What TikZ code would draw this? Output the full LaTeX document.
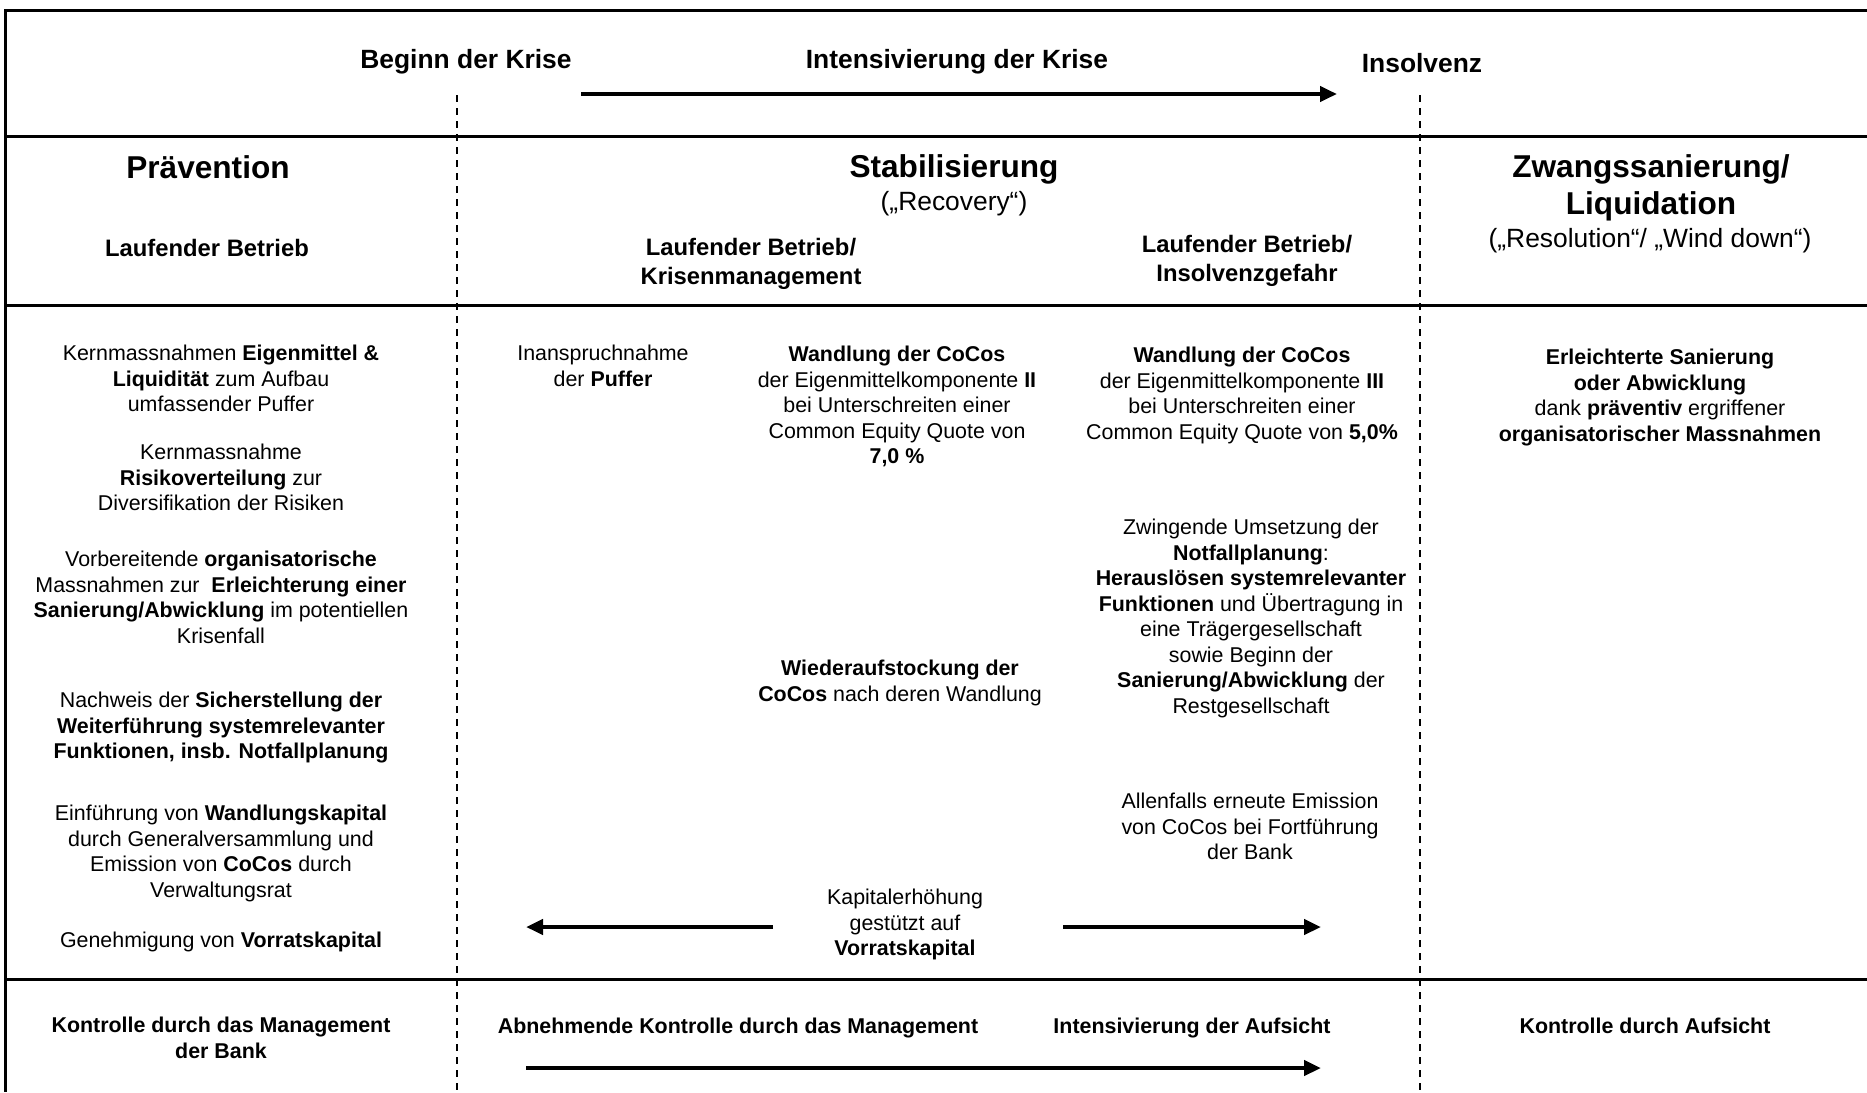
\documentclass[tikz,border=0pt]{standalone}
\usepackage{fontspec}
\setmainfont{Liberation Sans}
\usepackage{tikz}
\usetikzlibrary{arrows.meta,positioning}

\tikzstyle{phase} = [font=\fontsize{13.2}{15.8}\selectfont\bfseries, inner sep=0pt, anchor=north, align=center]
\tikzstyle{heading} = [font=\fontsize{15.8}{18.5}\selectfont\bfseries, inner sep=0pt, anchor=north, align=center]
\tikzstyle{english} = [font=\fontsize{13.2}{15.8}\selectfont, inner sep=0pt, anchor=north, align=center]
\tikzstyle{subhead} = [font=\fontsize{11.9}{14.5}\selectfont\bfseries, inner sep=0pt, anchor=north, align=center]
\tikzstyle{measure} = [font=\fontsize{10.7}{12.75}\selectfont, inner sep=0pt, anchor=north, align=center]
\tikzstyle{control} = [font=\fontsize{10.7}{12.75}\selectfont\bfseries, inner sep=0pt, anchor=north, align=center]
\tikzstyle{arrow} = [line width=2.2pt, -{Triangle[length=8.5pt,width=7.5pt]}]
\tikzstyle{frame} = [line width=1.5pt]
\tikzstyle{phaseline} = [line width=0.9pt, dash pattern=on 3.5pt off 3pt]

\begin{document}
\begin{tikzpicture}[x=0.5pt, y=-0.5pt]
\useasboundingbox (0,0) rectangle (1867,1092);

% Frame and rows
\draw[frame] (1867,10) -- (5,10) -- (5,1092);
\draw[frame] (5,136) -- (1867,136);
\draw[frame] (5,305) -- (1867,305);
\draw[frame] (5,979) -- (1867,979);

% Phase borders
\draw[phaseline] (457,95) -- (457,1092);
\draw[phaseline] (1420,95) -- (1420,1092);

% Top row
\node (beginn) [phase] at (466,49) {Beginn der Krise};
\node (intens) [phase] at (957,49) {Intensivierung der Krise};
\node (insolv) [phase] at (1422,53) {Insolvenz};
\coordinate (crisisstart) at (581,94);
\coordinate (crisisend) at (1337,94);
\draw[arrow] (crisisstart) -- (crisisend);

% Headings
\node (praev) [heading] at (208,155) {Prävention};
\node (stab) [heading] at (954,154) {Stabilisierung};
\node (recov) [english] at (954,191) {(„Recovery“)};
\node (zwang) [heading] at (1651,154) {Zwangssanierung/\\Liquidation};
\node (resol) [english] at (1650,228) {(„Resolution“/ „Wind down“)};

\node (lbpraev) [subhead] at (207,239) {Laufender Betrieb};
\node (lbkrise) [subhead] at (751,238) {Laufender Betrieb/\\Krisenmanagement};
\node (lbinsolv) [subhead] at (1247,235) {Laufender Betrieb/\\Insolvenzgefahr};

% Praevention
\node (puffer) [measure] at (221,345) {Kernmassnahmen \textbf{Eigenmittel \&}\\\textbf{Liquidität} zum Aufbau\\umfassender Puffer};
\node (risiko) [measure] at (221,444) {Kernmassnahme\\\textbf{Risikoverteilung} zur\\Diversifikation der Risiken};
\node (organ) [measure] at (221,551) {Vorbereitende \textbf{organisatorische}\\Massnahmen zur~ \textbf{Erleichterung einer}\\\textbf{Sanierung/Abwicklung} im potentiellen\\Krisenfall};
\node (nachweis) [measure] at (221,692) {Nachweis der \textbf{Sicherstellung der}\\\textbf{Weiterführung systemrelevanter}\\\textbf{Funktionen, insb. Notfallplanung}};
\node (wandkap) [measure] at (221,805) {Einführung von \textbf{Wandlungskapital}\\durch Generalversammlung und\\Emission von \textbf{CoCos} durch\\Verwaltungsrat};
\node (vorrat) [measure] at (221,932) {Genehmigung von \textbf{Vorratskapital}};

% Stabilisierung
\node (inansp) [measure] at (603,345) {Inanspruchnahme\\der \textbf{Puffer}};
\node (wandzwei) [measure] at (897,346) {\textbf{Wandlung der CoCos}\\der Eigenmittelkomponente \textbf{II}\\bei Unterschreiten einer\\Common Equity Quote von\\\textbf{7,0 \%}};
\node (wieder) [measure] at (900,660) {\textbf{Wiederaufstockung der}\\\textbf{CoCos} nach deren Wandlung};
\node (kapital) [measure] at (905,889) {Kapitalerhöhung\\gestützt auf\\\textbf{Vorratskapital}};
\node (wanddrei) [measure] at (1242,347) {\textbf{Wandlung der CoCos}\\der Eigenmittelkomponente \textbf{III}\\bei Unterschreiten einer\\Common Equity Quote von \textbf{5,0\%}};
\node (notfall) [measure] at (1251,519) {Zwingende Umsetzung der\\\textbf{Notfallplanung}:\\\textbf{Herauslösen systemrelevanter}\\\textbf{Funktionen} und Übertragung in\\eine Trägergesellschaft\\sowie Beginn der\\\textbf{Sanierung/Abwicklung} der\\Restgesellschaft};
\node (emission) [measure] at (1250,793) {Allenfalls erneute Emission\\von CoCos bei Fortführung\\der Bank};

\coordinate (kapleft) at (773,927);
\coordinate (kapleftend) at (526,927);
\coordinate (kapright) at (1063,927);
\coordinate (kaprightend) at (1321,927);
\draw[arrow] (kapleft) -- (kapleftend);
\draw[arrow] (kapright) -- (kaprightend);

% Zwangssanierung
\node (erleicht) [measure] at (1660,349) {\textbf{Erleichterte Sanierung}\\\textbf{oder Abwicklung}\\dank \textbf{präventiv} ergriffener\\\textbf{organisatorischer Massnahmen}};

% Kontrolle
\node (ktrbank) [control] at (221,1017) {Kontrolle durch das Management\\der Bank};
\node (ktrabn) [control] at (738,1018) {Abnehmende Kontrolle durch das Management};
\node (ktrint) [control] at (1192,1018) {Intensivierung der Aufsicht};
\node (ktraufs) [control] at (1645,1018) {Kontrolle durch Aufsicht};
\coordinate (ctrlstart) at (526,1068);
\coordinate (ctrlend) at (1321,1068);
\draw[arrow] (ctrlstart) -- (ctrlend);
\end{tikzpicture}
\end{document}
